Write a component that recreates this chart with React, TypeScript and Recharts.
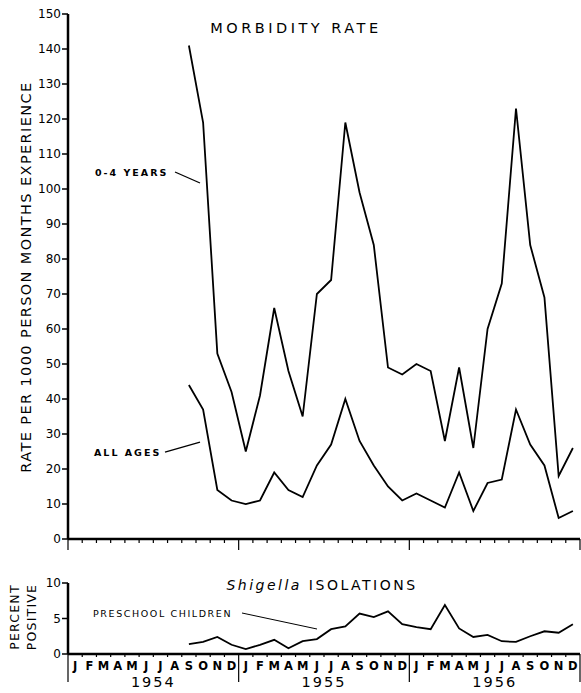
import React from 'react';
import { LineChart, Line, XAxis, YAxis } from 'recharts';

const MONTHS = ['J', 'F', 'M', 'A', 'M', 'J', 'J', 'A', 'S', 'O', 'N', 'D'];
const YEARS = ['1954', '1955', '1956'];

// monthly values, Jan 1954 .. Dec 1956 (null = not reported)
const AGES_0_4 = [
  null, null, null, null, null, null, null, null, 141, 119, 53, 42,
  25, 41, 66, 48, 35, 70, 74, 119, 99, 84, 49, 47,
  50, 48, 28, 49, 26, 60, 73, 123, 84, 69, 18, 26,
];
const ALL_AGES = [
  null, null, null, null, null, null, null, null, 44, 37, 14, 11,
  10, 11, 19, 14, 12, 21, 27, 40, 28, 21, 15, 11,
  13, 11, 9, 19, 8, 16, 17, 37, 27, 21, 6, 8,
];
const PRESCHOOL = [
  null, null, null, null, null, null, null, null, 1.4, 1.7, 2.4, 1.3,
  0.7, 1.3, 2.0, 0.8, 1.8, 2.1, 3.5, 3.9, 5.7, 5.2, 6.0, 4.2,
  3.8, 3.5, 6.9, 3.6, 2.4, 2.7, 1.8, 1.7, 2.5, 3.2, 3.0, 4.2,
];
const MAIN_TICKS = [0, 10, 20, 30, 40, 50, 60, 70, 80, 90, 100, 110, 120, 130, 140, 150];
const SUB_TICKS = [0, 5, 10];

const data = AGES_0_4.map((v, i) => ({
  x: i + 0.5,
  young: v,
  all: ALL_AGES[i],
  pre: PRESCHOOL[i],
}));
const monthTicks = Array.from({ length: 37 }, (_, i) => i);

const FONT = '"DejaVu Sans", sans-serif';
const W = 581;
const LEFT = 68;
const RIGHT = 1;
const STEP = (W - LEFT - RIGHT) / 36;

const MainTick = (props: any) => {
  const { x, y, payload } = props;
  const long = payload.value % 12 === 0;
  return <line x1={x} x2={x} y1={y} y2={y + (long ? 11 : 4)} stroke="#000" strokeWidth={1.2} />;
};

const SubTick = (props: any) => {
  const { x, y, payload } = props;
  const v = payload.value;
  const long = v % 12 === 0;
  return (
    <g>
      <line x1={x} x2={x} y1={y} y2={y + (long ? 28 : 3)} stroke="#000" strokeWidth={1.2} />
      {v < 36 && (
        <text x={x + STEP / 2} y={y + 16} textAnchor="middle" fontSize={11.5} fontWeight={600} fontFamily={FONT} fill="#000">
          {MONTHS[v % 12]}
        </text>
      )}
      {v < 36 && v % 12 === 0 && (
        <text x={x + STEP * 6} y={y + 33} textAnchor="middle" fontSize={14.5} letterSpacing={2} fontFamily={FONT} fill="#000">
          {YEARS[v / 12]}
        </text>
      )}
    </g>
  );
};

const tickStyle = { fill: '#000', fontSize: 12, fontFamily: FONT };

export default function App() {
  return (
    <div style={{ position: 'absolute', left: 0, top: 0, width: W, height: 693, background: '#fff', fontFamily: FONT }}>
      <div style={{ position: 'absolute', left: 0, top: 0 }}>
        <LineChart width={W} height={560} data={data} margin={{ top: 14, right: RIGHT, left: 0, bottom: 0 }}>
          <XAxis
            dataKey="x"
            type="number"
            domain={[0, 36]}
            ticks={monthTicks}
            interval={0}
            height={21}
            tickSize={0}
            tickMargin={0}
            tickLine={false}
            tick={<MainTick />}
            axisLine={{ stroke: '#000', strokeWidth: 2.5 }}
          />
          <YAxis
            domain={[0, 150]}
            ticks={MAIN_TICKS}
            interval={0}
            width={LEFT}
            tickSize={6}
            tickMargin={1}
            tick={tickStyle}
            tickLine={{ stroke: '#000', strokeWidth: 1.5 }}
            axisLine={{ stroke: '#000', strokeWidth: 2.5 }}
          />
          <Line dataKey="young" stroke="#000" strokeWidth={1.8} dot={false} isAnimationActive={false} connectNulls={false} />
          <Line dataKey="all" stroke="#000" strokeWidth={1.8} dot={false} isAnimationActive={false} connectNulls={false} />
        </LineChart>
      </div>
      <div style={{ position: 'absolute', left: 0, top: 570 }}>
        <LineChart width={W} height={123} data={data} margin={{ top: 13, right: RIGHT, left: 0, bottom: 0 }}>
          <XAxis
            dataKey="x"
            type="number"
            domain={[0, 36]}
            ticks={monthTicks}
            interval={0}
            height={39}
            tickSize={0}
            tickMargin={0}
            tickLine={false}
            tick={<SubTick />}
            axisLine={{ stroke: '#000', strokeWidth: 2.5 }}
          />
          <YAxis
            domain={[0, 10]}
            ticks={SUB_TICKS}
            interval={0}
            width={LEFT}
            tickSize={6}
            tickMargin={1}
            tick={tickStyle}
            tickLine={{ stroke: '#000', strokeWidth: 1.5 }}
            axisLine={{ stroke: '#000', strokeWidth: 2.5 }}
          />
          <Line dataKey="pre" stroke="#000" strokeWidth={1.8} dot={false} isAnimationActive={false} />
        </LineChart>
      </div>
      <svg width={W} height={693} style={{ position: 'absolute', left: 0, top: 0, pointerEvents: 'none' }}>
        <text x={296} y={33} textAnchor="middle" fontSize={14.5} letterSpacing={3.5} fontFamily={FONT} fill="#000">
          MORBIDITY RATE
        </text>
        <text
          transform="translate(31,277) rotate(-90)"
          textAnchor="middle"
          fontSize={14.5}
          letterSpacing={1.4}
          fontFamily={FONT}
          fill="#000"
        >
          RATE PER 1000 PERSON MONTHS EXPERIENCE
        </text>
        <text x={95} y={176} fontSize={9.5} fontWeight={700} letterSpacing={2} fontFamily={FONT} fill="#000">0-4 YEARS</text>
        <line x1={175} y1={172} x2={200} y2={183} stroke="#000" strokeWidth={1.3} />
        <text x={94} y={456} fontSize={9.5} fontWeight={700} letterSpacing={2} fontFamily={FONT} fill="#000">ALL AGES</text>
        <line x1={165} y1={452} x2={200} y2={442} stroke="#000" strokeWidth={1.3} />
        <text x={322} y={590} textAnchor="middle" fontSize={14} letterSpacing={2.5} fontFamily={FONT} fill="#000">
          <tspan fontStyle="italic">Shigella</tspan> ISOLATIONS
        </text>
        <text x={93} y={617} fontSize={9.5} letterSpacing={1.6} fontFamily={FONT} fill="#000">PRESCHOOL CHILDREN</text>
        <line x1={242} y1={613} x2={317} y2={629} stroke="#000" strokeWidth={1} />
        <text transform="translate(19,617) rotate(-90)" textAnchor="middle" fontSize={12.5} letterSpacing={1.2} fontFamily={FONT} fill="#000">
          PERCENT
        </text>
        <text transform="translate(36,617) rotate(-90)" textAnchor="middle" fontSize={12.5} letterSpacing={1.2} fontFamily={FONT} fill="#000">
          POSITIVE
        </text>
      </svg>
    </div>
  );
}
